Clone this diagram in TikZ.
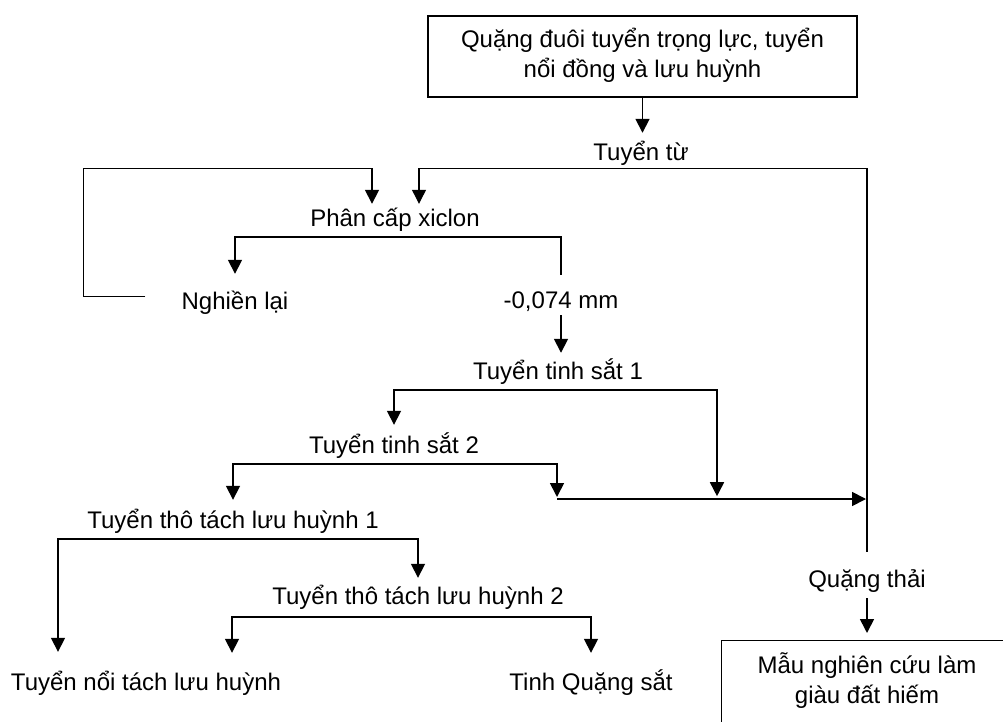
\documentclass[tikz,border=0pt]{standalone}
\usepackage{fontspec}
\setmainfont{Liberation Sans}
\usetikzlibrary{arrows.meta}

\begin{document}
\begin{tikzpicture}[x=1pt,y=-1pt,
  >={Triangle[length=14pt,width=14pt]},
  every node/.style={font=\fontsize{24}{30}\selectfont},
  etape/.style={anchor=base, inner xsep=2pt, inner ysep=5pt, text height=23pt, text depth=6pt},
  boite/.style={draw, line width=1.3pt, align=center},
  fleche/.style={->, line width=1.7pt},
  trait/.style={line width=1.7pt},
  rejet/.style={line width=1.2pt}]
 \useasboundingbox (0,0) rectangle (1003,722);

	% Boites
 \node[boite, minimum width=429pt, minimum height=81pt, text depth=8pt] (feed) at (642.5,56.5) {Quặng đuôi tuyển trọng lực, tuyển\\nổi đồng và lưu huỳnh};
 \node[boite, anchor=north west, minimum width=292pt, minimum height=120pt] (sample) at (721,640) {};
 \node[anchor=base, align=center] (sampletxt) at (867,703) {Mẫu nghiên cứu làm\\giàu đất hiếm};

	% Etapes
 \node[etape] (tuyentu) at (641,161) {Tuyển từ};
 \node[etape] (cyclone) at (395,226) {Phân cấp xiclon};
 \node[etape] (nghien) at (235,309) {Nghiền lại};
 \node[etape] (fine) at (561,308) {-0,074 mm};
 \node[etape] (tts1) at (558,379) {Tuyển tinh sắt 1};
 \node[etape] (tts2) at (394,453) {Tuyển tinh sắt 2};
 \node[etape] (ttl1) at (233,528) {Tuyển thô tách lưu huỳnh 1};
 \node[etape] (ttl2) at (418,604) {Tuyển thô tách lưu huỳnh 2};
 \node[etape] (float) at (146,690) {Tuyển nổi tách lưu huỳnh};
 \node[etape] (conc) at (591,690) {Tinh Quặng sắt};
 \node[etape] (waste) at (867,587) {Quặng thải};
 \coordinate (tail) at (557,499);

	% Liaisons
 \draw[fleche] (feed.south) -- (feed.south |- tuyentu.north);
 \draw[fleche, rejet, shorten >=-6pt] ([yshift=4pt]tuyentu.south) -| ([xshift=24pt]cyclone.north);
 \draw[rejet, shorten >=7pt] ([yshift=4pt]tuyentu.south) -| (waste.north);
 \draw[fleche, shorten >=-6pt] ([xshift=-34pt,yshift=4pt]nghien.west) -| ++(-62,-128) -| ([xshift=-23pt]cyclone.north);
 \draw[fleche, shorten >=7pt] (cyclone.south) -| (nghien.north);
 \draw[trait, shorten >=5pt] (cyclone.south) -| (fine.north);
 \draw[fleche, shorten >=-2pt] ([yshift=4pt]fine.south) -- (fine.south |- tts1.north);
 \draw[fleche] (tts1.south) -| (tts2.north);
 \draw[fleche] (tts1.south) -| ++(159,106);
 \draw[fleche] (tts2.south) -| (ttl1.north);
 \draw[fleche] (tts2.south) -| ([yshift=2pt]tail);
 \draw[fleche, shorten >=1pt] (tail) -- (tail -| waste.north);
 \draw[fleche, shorten >=10pt] (ttl1.south) -| ([xshift=-88pt]float.north);
 \draw[fleche, shorten >=-2pt] (ttl1.south) -| (ttl2.north);
 \draw[fleche, shorten >=9pt] ([yshift=-2pt]ttl2.south) -| ([xshift=86pt]float.north);
 \draw[fleche, shorten >=9pt] ([yshift=-2pt]ttl2.south) -| (conc.north);
 \draw[fleche, shorten >=7pt] (waste.south) -- (sample.north -| waste.south);

\end{tikzpicture}
\end{document}
